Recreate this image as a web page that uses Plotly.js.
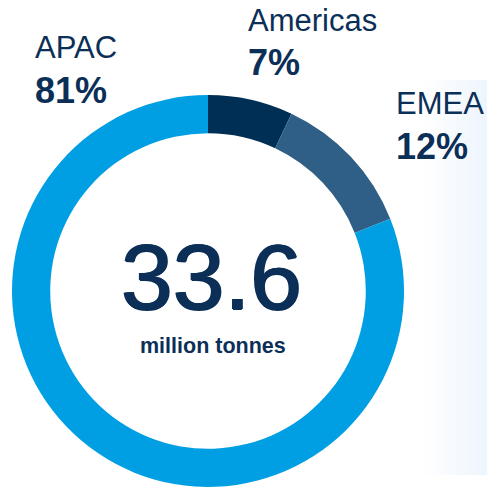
<!DOCTYPE html>
<html>
<head>
<meta charset="utf-8">
<script src="https://cdn.plot.ly/plotly-3.0.1.min.js"></script>
<style>
  html, body { margin: 0; padding: 0; background: #ffffff; }
  #chart { width: 487px; height: 488px; }
</style>
</head>
<body>
<div id="chart"></div>
<script>
// Regions and their share of volume
const regiones = ['Americas', 'EMEA', 'APAC'];
const valores = [7, 12, 81];
const etiquetas = ['7%', '12%', '81%'];
const colores = ['#002f56', '#2f5f86', '#009fe3'];

const total = '33.6';
const unidad = 'million tonnes';

const W = 487, H = 488;
const px = x => x / W;
const py = y => 1 - y / H;

const navy = '#0b2f57';

// Donut
const dona = {
    type: 'pie',
    labels: regiones,
    values: valores,
    sort: false,
    direction: 'clockwise',
    rotation: 0,
    hole: 0.805,
    marker: { colors: colores, line: { width: 0 } },
    textinfo: 'none',
    hoverinfo: 'label+percent',
    showlegend: false,
    domain: { x: [px(12), px(404)], y: [py(487), py(95)] }
};

// Label positions (left edge, middle of region name)
const posEtiquetas = { APAC: [33, 47], Americas: [246, 20], EMEA: [394, 103] };

const annotations = [];
regiones.forEach((r, i) => {
    const [x, y] = posEtiquetas[r];
    annotations.push({
        xref: 'paper', yref: 'paper', x: px(x), y: py(y),
        xanchor: 'left', yanchor: 'middle', showarrow: false,
        text: r,
        font: { family: 'Liberation Sans, Arial, sans-serif', size: 31, color: navy }
    });
    annotations.push({
        xref: 'paper', yref: 'paper', x: px(x), y: py(y + 43),
        xanchor: 'left', yanchor: 'middle', showarrow: false,
        text: '<b>' + etiquetas[i] + '</b>',
        font: { family: 'Liberation Sans, Arial, sans-serif', size: 36, color: navy }
    });
});

// Big total, thickened a little to look medium weight
annotations.push({
    xref: 'paper', yref: 'paper', x: px(211), y: py(277),
    xanchor: 'center', yanchor: 'middle', showarrow: false,
    text: total,
    font: {
        family: 'Liberation Sans, Arial, sans-serif', size: 93, color: navy,
        shadow: '1px 0 0 ' + navy + ', -1px 0 0 ' + navy + ', 0 1px 0 ' + navy
    }
});
annotations.push({
    xref: 'paper', yref: 'paper', x: px(213), y: py(346),
    xanchor: 'center', yanchor: 'middle', showarrow: false,
    text: '<b>' + unidad + '</b>',
    font: { family: 'Liberation Sans, Arial, sans-serif', size: 21.5, color: navy }
});

// Soft blue fade on the right edge
const shapes = [];
const nTiras = 10;
for (let k = 0; k < nTiras; k++) {
    const x0 = 425 + k * 6.2;
    shapes.push({
        type: 'rect', xref: 'paper', yref: 'paper', layer: 'below',
        x0: px(x0), x1: px(x0 + 6.2), y0: py(475), y1: py(80),
        fillcolor: '#e3effb', opacity: (k + 1) / nTiras * 0.6,
        line: { width: 0 }
    });
}

const layout = {
    width: W, height: H,
    margin: { l: 0, r: 0, t: 0, b: 0 },
    paper_bgcolor: '#ffffff',
    plot_bgcolor: '#ffffff',
    annotations: annotations,
    shapes: shapes
};

Plotly.newPlot('chart', [dona], layout, { displayModeBar: false, staticPlot: true });
</script>
</body>
</html>
